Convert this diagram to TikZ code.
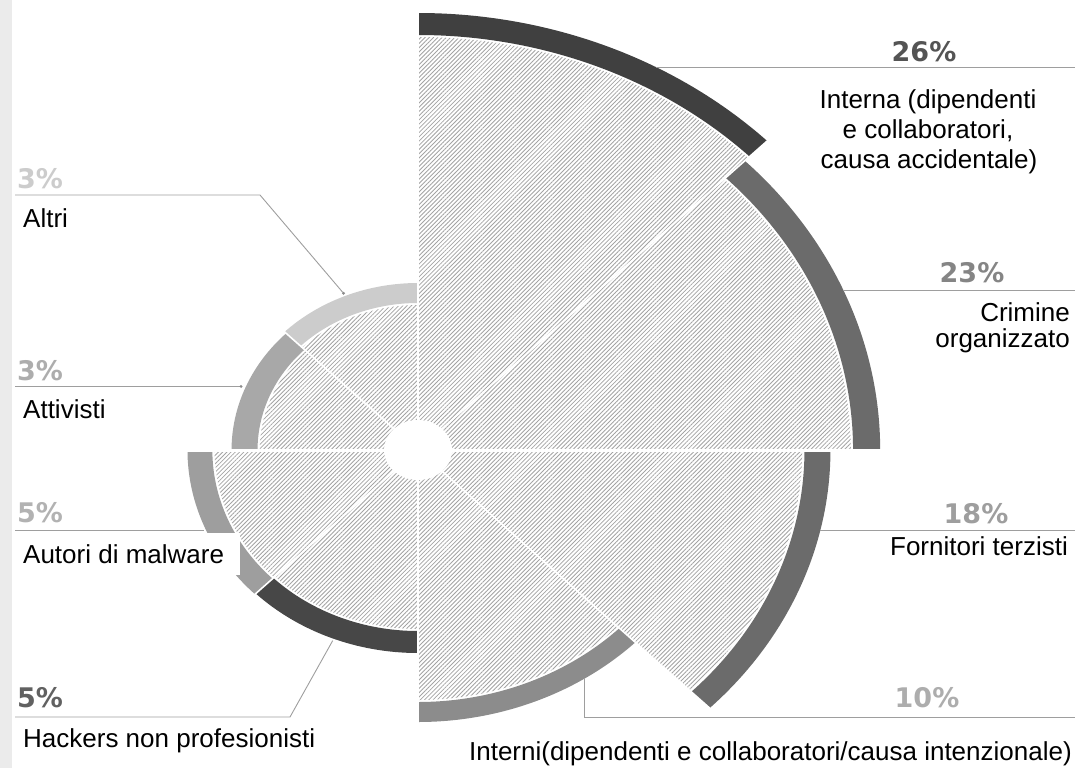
\documentclass[tikz,border=0pt]{standalone}
\usepackage{fontspec}
\setmainfont{Liberation Sans}
\newfontfamily\pctfont{DejaVu Sans}
\usetikzlibrary{patterns.meta}
\definecolor{c1}{gray}{0.25}
\definecolor{c2}{gray}{0.42}
\definecolor{c3}{gray}{0.42}
\definecolor{c4}{gray}{0.55}
\definecolor{c5}{gray}{0.28}
\definecolor{c6}{gray}{0.62}
\definecolor{c7}{gray}{0.66}
\definecolor{c8}{gray}{0.80}
\definecolor{p26}{gray}{0.33}
\definecolor{p23}{gray}{0.52}
\definecolor{p18}{gray}{0.62}
\definecolor{p10}{gray}{0.68}
\definecolor{p3a}{gray}{0.80}
\definecolor{p3b}{gray}{0.68}
\definecolor{p5a}{gray}{0.70}
\definecolor{p5h}{gray}{0.38}
\newcommand\rosesector[6]{%
  \path[wedge] (0,0) -- (#1:#3) arc[start angle=#1, end angle=#2, radius=#3] -- cycle;
  \fill[#6] (#1:#4) arc[start angle=#1, end angle=#2, radius=#4] -- (#2:#5) arc[start angle=#2, end angle=#1, radius=#5] -- cycle;
}
\begin{document}
\begin{tikzpicture}[x=1pt,y=-1pt,
  lbl/.style={font=\fontsize{26}{30}\selectfont, inner sep=0pt},
  pct/.style={font=\pctfont\bfseries\fontsize{27}{30}\selectfont, inner sep=0pt, anchor=base},
  conn/.style={draw=black!38, line width=0.9pt},
  wedge/.style={pattern={Lines[angle=45,distance=3pt,line width=0.85pt]}, pattern color=black!36},
  sep/.style={draw=white, line width=1.6pt},
  tip/.style={fill=black!45}]
\useasboundingbox (0,0) rectangle (1075,768);
\fill[black!8] (0,0) rectangle (12,768);

\begin{scope}[shift={(418,450)}, xscale=1.13, yscale=-1]
  \rosesector{45}{90}{413}{415}{437}{c1}
  \rosesector{0}{45}{383}{385}{409}{c2}
  \rosesector{-45}{0}{340}{342}{365}{c3}
  \rosesector{-90}{-45}{250}{252}{272}{c4}
  \rosesector{-135}{-90}{179}{181}{203}{c5}
  \rosesector{-180}{-135}{180}{182}{204}{c6}
  \rosesector{135}{180}{140}{142}{165}{c7}
  \rosesector{90}{135}{145}{147}{167}{c8}
  \foreach \a/\r in {0/412,45/440,90/440,135/170,180/207,225/207,270/275,315/368}
    \draw[sep] (0,0) -- (\a:\r);
  \draw[white, line width=3pt] (0,0) -- (0:412);
  \draw[white, line width=3pt] (0,0) -- (180:207);
  \fill[white] (0,0) circle[radius=30];
  \coordinate (a26) at (61.2:437);
  \coordinate (a23) at (23:409);
  \coordinate (a18) at (-12.66:365);
  \coordinate (a10) at (-57.3:272);
  \coordinate (a5h) at (-111.6:205);
  \coordinate (a5a) at (203.1:206);
  \coordinate (a3b) at (157.9:169);
  \coordinate (a3a) at (112.8:170);
\end{scope}

% connector ends
\coordinate (rgt) at (1075,0);
\coordinate (lft) at (15,0);
\coordinate (r10) at (1075,717);
\coordinate (b3a) at (260,195);
\coordinate (l3a) at (15,195);
\coordinate (b5h) at (290,717);
\coordinate (l5h) at (15,717);

\draw[conn] (a26) -- (a26 -| rgt);
\draw[conn] (a23) -- (a23 -| rgt);
\draw[conn] (a18) -- (a18 -| rgt);
\draw[conn] (a10) -- (a10 |- r10) -- (r10);
\draw[conn] (l3a) -- (b3a) -- (a3a);
\draw[conn] (a3b -| lft) -- (a3b);
\draw[conn] (a5a -| lft) -- (a5a);
\draw[conn] (l5h) -- (b5h) -- (a5h);
\fill[tip] (a3a) circle[radius=1.6];
\fill[tip] (a3b) circle[radius=1.6];

% right labels
\node[pct, text=p26] (n26) at (924,62) {26\%};
\node[lbl, anchor=base] (t26a) at (928,108) {Interna (dipendenti};
\node[lbl, anchor=base] (t26b) at (928,138) {e collaboratori,};
\node[lbl, anchor=base] (t26c) at (929,168) {causa accidentale)};

\node[pct, text=p23] (n23) at (972,282) {23\%};
\node[lbl, anchor=base east] (t23a) at (1070,321) {Crimine};
\node[lbl, anchor=base east] (t23b) at (1070,347) {organizzato};

\node[pct, text=p18] (n18) at (976,523) {18\%};
\node[lbl, anchor=base east] (t18) at (1068,555) {Fornitori terzisti};

\node[pct, text=p10] (n10) at (927,707) {10\%};
\node[lbl, anchor=base east] (t10) at (1072,760) {Interni(dipendenti e collaboratori/causa intenzionale)};

% left labels
\node[pct, anchor=base west, text=p3a] (n3a) at (17,188) {3\%};
\node[lbl, anchor=base west] (t3a) at (23,227) {Altri};

\node[pct, anchor=base west, text=p3b] (n3b) at (17,380) {3\%};
\node[lbl, anchor=base west] (t3b) at (23,418) {Attivisti};

\node[pct, anchor=base west, text=p5a] (n5a) at (17,522) {5\%};
\node[fill=white, inner sep=0pt, minimum width=225pt, minimum height=42pt, anchor=north west] (box5a) at (15,533) {};
\node[lbl, anchor=base west] (t5a) at (23,563) {Autori di malware};

\node[pct, anchor=base west, text=p5h] (n5h) at (17,707) {5\%};
\node[lbl, anchor=base west] (t5h) at (23,747) {Hackers non profesionisti};
\end{tikzpicture}
\end{document}
